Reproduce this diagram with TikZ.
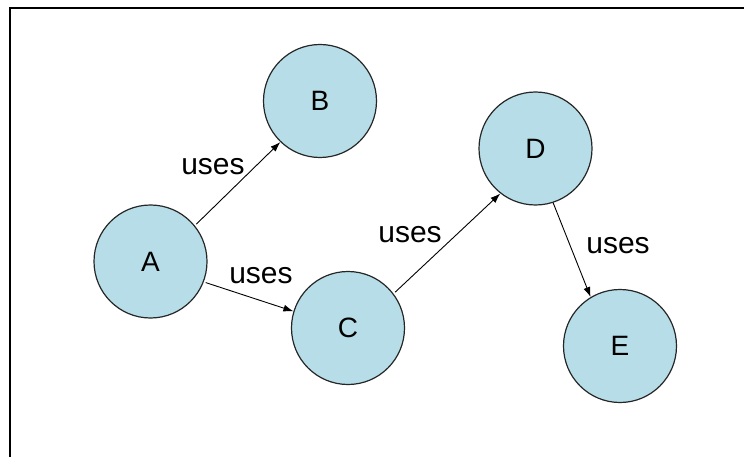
\documentclass[tikz,border=0pt]{standalone}
\usepackage{fontspec}
\setmainfont{Liberation Sans}
\usetikzlibrary{arrows.meta}
\definecolor{nodefill}{RGB}{183,222,232}
\tikzset{
  ball/.style={circle, draw=black!85, line width=1.2pt, fill=nodefill,
    minimum size=113pt, inner sep=0pt, font=\fontsize{28}{30}\selectfont},
  link/.style={line width=0.9pt, -{Latex[length=10pt,width=7pt]}},
  lbl/.style={anchor=base, inner sep=0pt, font=\fontsize{30}{32}\selectfont},
}
\begin{document}
\begin{tikzpicture}[x=1pt, y=-1pt]
  \useasboundingbox (0,0) rectangle (744,457);
  \fill[white] (0,0) rectangle (744,457);
  % frame edges
  \draw[line width=1.6pt] (10,457) -- (10,8) -- (744,8);

  \node[ball] (A) at (150.5,261.5) {A};
  \node[ball] (B) at (320,101) {B};
  \node[ball] (C) at (348,328) {C};
  \node[ball] (D) at (535.5,148.5) {D};
  \node[ball] (E) at (620,346) {E};

  \draw[link, shorten <=2pt] (A.39) -- (B.226);
  \draw[link, shorten <=2pt] (A.-21) -- (C.163);
  \draw[link, shorten <=2pt] (C.37) -- (D.232);
  \draw[link] (D.-72) -- (E.121);

  \node[lbl] (u1) at (213,175) {uses};
  \node[lbl] (u2) at (261,283) {uses};
  \node[lbl] (u3) at (410,242) {uses};
  \node[lbl] (u4) at (618,253) {uses};
\end{tikzpicture}
\end{document}
